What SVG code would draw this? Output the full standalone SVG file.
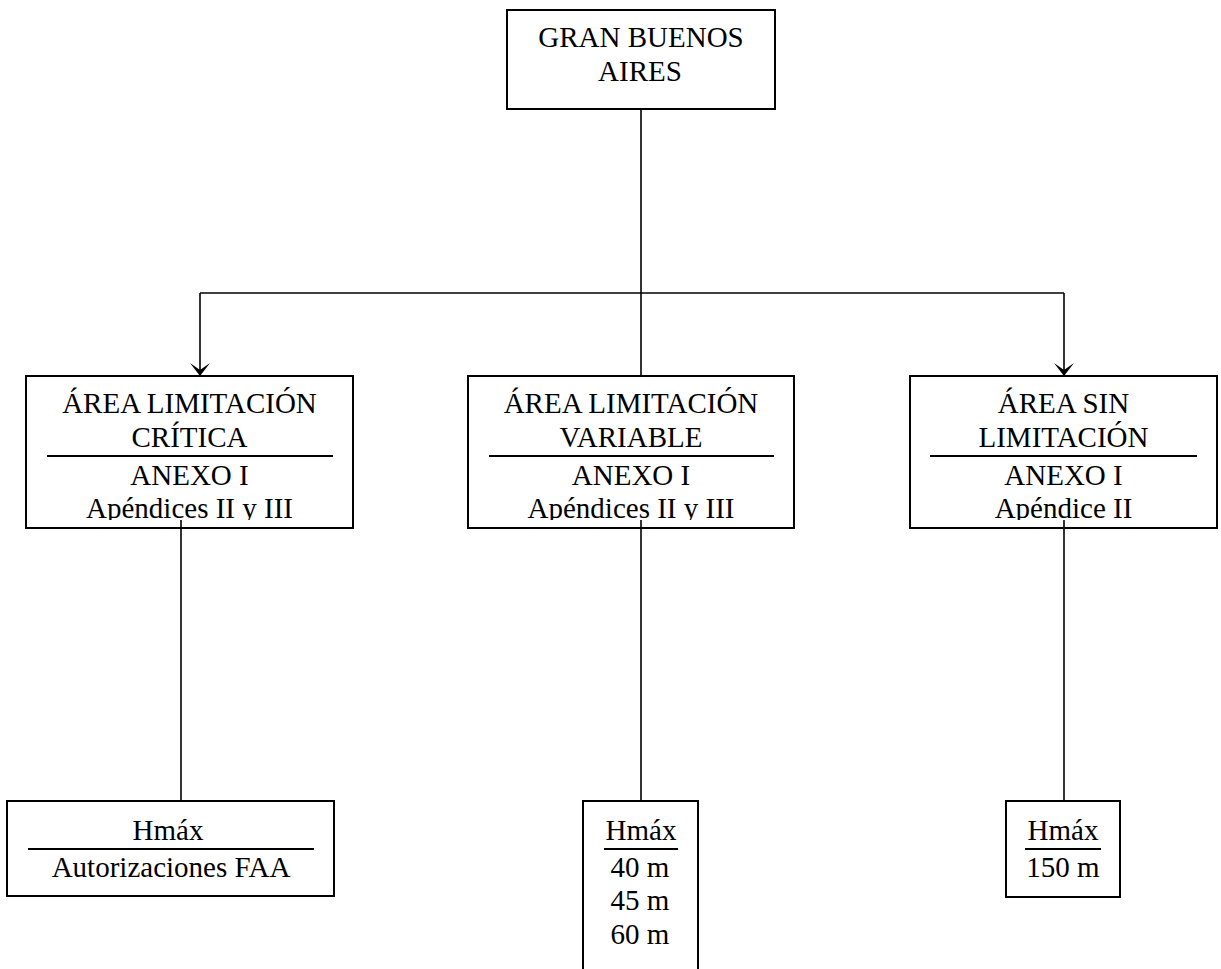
<svg xmlns="http://www.w3.org/2000/svg" width="1221" height="969" viewBox="0 0 1221 969">
<style>
.box{fill:#fff;stroke:#000;stroke-width:2}
.sep{stroke:#000;stroke-width:2}
.con{fill:none;stroke:#000;stroke-width:1.6}
text{font-family:"Liberation Serif","Times New Roman",serif;font-size:29px;fill:#000;text-anchor:middle}
</style>
<defs>
<marker id="arr" markerUnits="userSpaceOnUse" markerWidth="14" markerHeight="22" viewBox="-13 -11 14 22" refX="0" refY="0" orient="auto" overflow="visible">
<path d="M0,0 L-13,-10 L-6,0 L-13,10 Z" fill="#000"/>
</marker>
<clipPath id="c1"><rect x="26" y="376" width="327" height="144"/></clipPath>
<clipPath id="c2"><rect x="468" y="376" width="326" height="144"/></clipPath>
<clipPath id="c3"><rect x="910" y="376" width="307" height="144"/></clipPath>
</defs>
<g id="n-top">
<rect class="box" x="507" y="10" width="268" height="99"/>
<text x="641" y="47">GRAN BUENOS</text>
<text x="640" y="81">AIRES</text>
</g>
<g id="n-critica">
<rect class="box" x="26" y="376" width="327" height="152"/>
<line class="sep" x1="47" y1="456" x2="333" y2="456"/>
<g clip-path="url(#c1)">
<text x="189.5" y="413">ÁREA LIMITACIÓN</text>
<text x="189.5" y="447">CRÍTICA</text>
<text x="189.5" y="485">ANEXO I</text>
<text x="189.5" y="518">Apéndices II y III</text>
</g>
</g>
<g id="n-variable">
<rect class="box" x="468" y="376" width="326" height="152"/>
<line class="sep" x1="489" y1="456" x2="774" y2="456"/>
<g clip-path="url(#c2)">
<text x="631" y="413">ÁREA LIMITACIÓN</text>
<text x="631" y="447">VARIABLE</text>
<text x="631" y="485">ANEXO I</text>
<text x="631" y="518">Apéndices II y III</text>
</g>
</g>
<g id="n-sin">
<rect class="box" x="910" y="376" width="307" height="152"/>
<line class="sep" x1="930" y1="456" x2="1197" y2="456"/>
<g clip-path="url(#c3)">
<text x="1063.5" y="413">ÁREA SIN</text>
<text x="1063.5" y="447">LIMITACIÓN</text>
<text x="1063.5" y="485">ANEXO I</text>
<text x="1063.5" y="518">Apéndice II</text>
</g>
</g>
<g id="n-hmax-faa">
<rect class="box" x="7" y="801" width="327" height="95"/>
<line class="sep" x1="28" y1="849" x2="314" y2="849"/>
<text x="168" y="840">Hmáx</text>
<text x="171" y="877">Autorizaciones FAA</text>
</g>
<g id="n-hmax-var">
<rect class="box" x="583" y="801" width="115" height="220"/>
<line class="sep" x1="604" y1="849" x2="678" y2="849"/>
<text x="641" y="840">Hmáx</text>
<text x="640" y="877">40 m</text>
<text x="640" y="910">45 m</text>
<text x="640" y="944">60 m</text>
</g>
<g id="n-hmax-150">
<rect class="box" x="1006" y="801" width="114" height="96"/>
<line class="sep" x1="1025" y1="849" x2="1101" y2="849"/>
<text x="1063" y="840">Hmáx</text>
<text x="1063" y="877">150 m</text>
</g>
<g id="connectors">
<line class="con" x1="641" y1="109" x2="641" y2="376"/>
<line class="con" x1="200" y1="293" x2="1064" y2="293"/>
<line class="con" x1="200" y1="293" x2="200" y2="376" marker-end="url(#arr)"/>
<line class="con" x1="1064" y1="293" x2="1064" y2="376" marker-end="url(#arr)"/>
<line class="con" x1="181" y1="520" x2="181" y2="801"/>
<line class="con" x1="641" y1="520" x2="641" y2="801"/>
<line class="con" x1="1064" y1="520" x2="1064" y2="801"/>
</g>
</svg>
